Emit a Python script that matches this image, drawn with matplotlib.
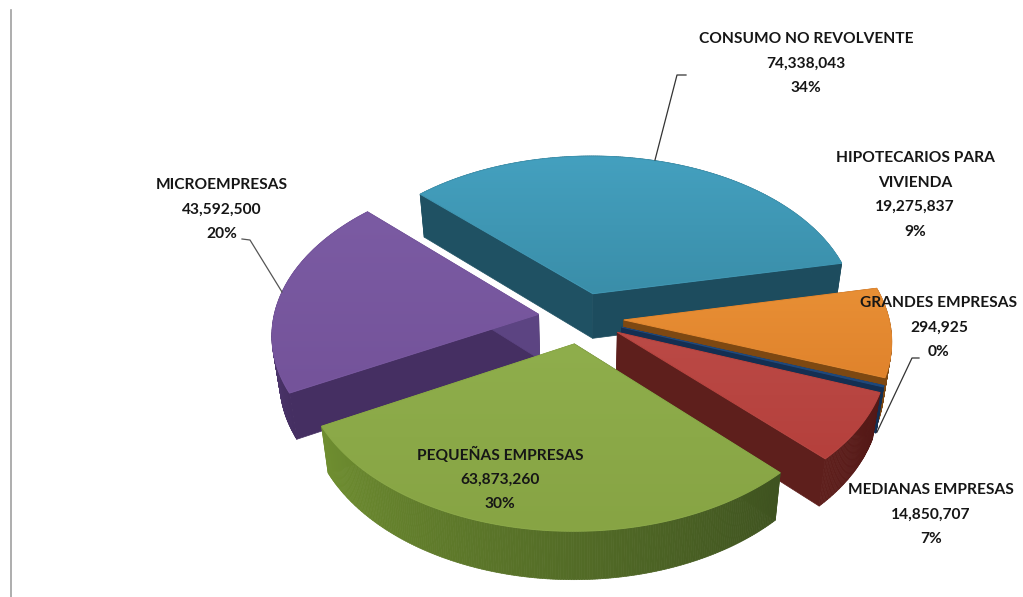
import numpy as np
import matplotlib
matplotlib.use('Agg')
import matplotlib.pyplot as plt
from matplotlib.collections import PolyCollection
from matplotlib.colors import to_rgb, LinearSegmentedColormap
from matplotlib.patches import Polygon

plt.rcParams['font.family'] = ['Lato', 'DejaVu Sans']

# clockwise from the first slice
names = [['CONSUMO NO REVOLVENTE'], ['HIPOTECARIOS PARA', 'VIVIENDA'], ['GRANDES EMPRESAS'],
         ['MEDIANAS EMPRESAS'], ['PEQUEÑAS EMPRESAS'], ['MICROEMPRESAS']]
values = [74338043, 19275837, 294925, 14850707, 63873260, 43592500]

top_colors = [('#44a0bf', '#3a8ea9'), ('#e88f35', '#e0832c'), ('#1f497d', '#1f497d'),
              ('#bb4a46', '#b5403c'), ('#8fae4c', '#87a444'), ('#7b5ba3', '#74539a')]
wall_colors = [('#1d4c5e', '#1f5163'), ('#7d4812', '#7d4812'), ('#142f52', '#142f52'),
               ('#5e1f1c', '#531816'), ('#6f8e30', '#3f5320'), ('#5c4482', '#452f62')]

# label anchor (x, y of first line) for each slice
label_pos = [(806, 39), (915, 158), (939, 303), (931, 490), (500, 455), (222, 185)]
line_step = 24.6

# pie layout, in pixels
CX, CY = 581, 318
RX, RY = 265, 159
PERSP = 0.1165
EXPLODE = 0.162
DEPTH = 45
SHRINK = 0.975
START = -45.5


def project(x, y):
    w = 1 + PERSP * y
    return CX + RX * x / w, CY - RY * y / w, w


def drop(px, py, w):
    return CX + (px - CX) * SHRINK, py + DEPTH / np.sqrt(w)


def mix(c0, c1, t):
    a, b = np.array(to_rgb(c0)), np.array(to_rgb(c1))
    return tuple(a + (b - a) * t)


def draw_slice(ax, a0, a1, tops, walls, z):
    mid = np.radians((a0 + a1) / 2)
    ox, oy = EXPLODE * np.sin(mid), EXPLODE * np.cos(mid)
    ang = np.radians(np.linspace(a0, a1, max(int(a1 - a0) * 2, 3)))
    rim_x, rim_y, rim_w = project(ox + np.sin(ang), oy + np.cos(ang))
    ax_x, ax_y, ax_w = project(ox, oy)
    low_x, low_y = drop(rim_x, rim_y, rim_w)
    apex_lx, apex_ly = drop(ax_x, ax_y, ax_w)

    # two straight cut faces
    flat = mix(walls[0], walls[1], 0.5) if walls[0] != walls[1] else walls[0]
    for i in (0, -1):
        quad = [(ax_x, ax_y), (rim_x[i], rim_y[i]), (low_x[i], low_y[i]), (apex_lx, apex_ly)]
        color = walls[1] if i == 0 else walls[0]
        ax.add_patch(Polygon(quad, closed=True, fc=color, ec=color, lw=0.5, zorder=z))

    # curved outer face, shaded along the arc
    quads, shades = [], []
    for i in range(len(ang) - 1):
        quads.append([(rim_x[i], rim_y[i]), (rim_x[i + 1], rim_y[i + 1]),
                      (low_x[i + 1], low_y[i + 1]), (low_x[i], low_y[i])])
        shades.append(mix(walls[1], walls[0], i / max(len(ang) - 2, 1)))
    ax.add_collection(PolyCollection(quads, facecolors=shades, edgecolors=shades, linewidths=0.5, zorder=z))

    # top face with a soft vertical gradient
    xs = np.r_[ax_x, rim_x]
    ys = np.r_[ax_y, rim_y]
    outline = Polygon(np.c_[xs, ys], closed=True, fc='none', ec=mix(tops[0], tops[1], 0.5), lw=0.7, zorder=z + 0.2)
    ax.add_patch(outline)
    cmap = LinearSegmentedColormap.from_list('top', [tops[0], tops[1]])
    im = ax.imshow(np.linspace(0, 1, 64).reshape(-1, 1), cmap=cmap, aspect='auto', zorder=z + 0.1,
                   extent=(xs.min(), xs.max(), ys.max(), ys.min()))
    im.set_clip_path(Polygon(np.c_[xs, ys], closed=True, transform=ax.transData))


fig = plt.figure(figsize=(10.23, 5.97), dpi=100, facecolor='white')
ax = fig.add_axes([0, 0, 1, 1])
ax.axis('off')

total = sum(values)
edges = START + np.r_[0, np.cumsum(values)] / total * 360

# painter's order: back slices first
for z, i in enumerate([0, 5, 1, 2, 3, 4]):
    draw_slice(ax, edges[i], edges[i + 1], top_colors[i], wall_colors[i], z + 1)

for name, value, (lx, ly) in zip(names, values, label_pos):
    lines = name + [f'{value:,}', f'{round(value / total * 100)}%']
    for j, line in enumerate(lines):
        ax.text(lx, ly + j * line_step, line, ha='center', va='center', fontsize=11.2,
                fontweight='bold', color='#161616', zorder=20)

# leader lines
ax.plot([655, 677, 686], [160, 75, 75], color='#333333', lw=0.9, zorder=19)
ax.plot([282, 250, 242], [292, 240, 239], color='#555555', lw=0.9, zorder=19)
ax.plot([877, 912, 919], [432, 358, 358], color='#333333', lw=0.9, zorder=19)

# thin rule on the left edge
ax.plot([10.5, 10.5], [10, 597], color='#a0a0a0', lw=1.2, zorder=0)

ax.set_xlim(0, 1023)
ax.set_ylim(597, 0)
fig.savefig('out.png', dpi=100)
